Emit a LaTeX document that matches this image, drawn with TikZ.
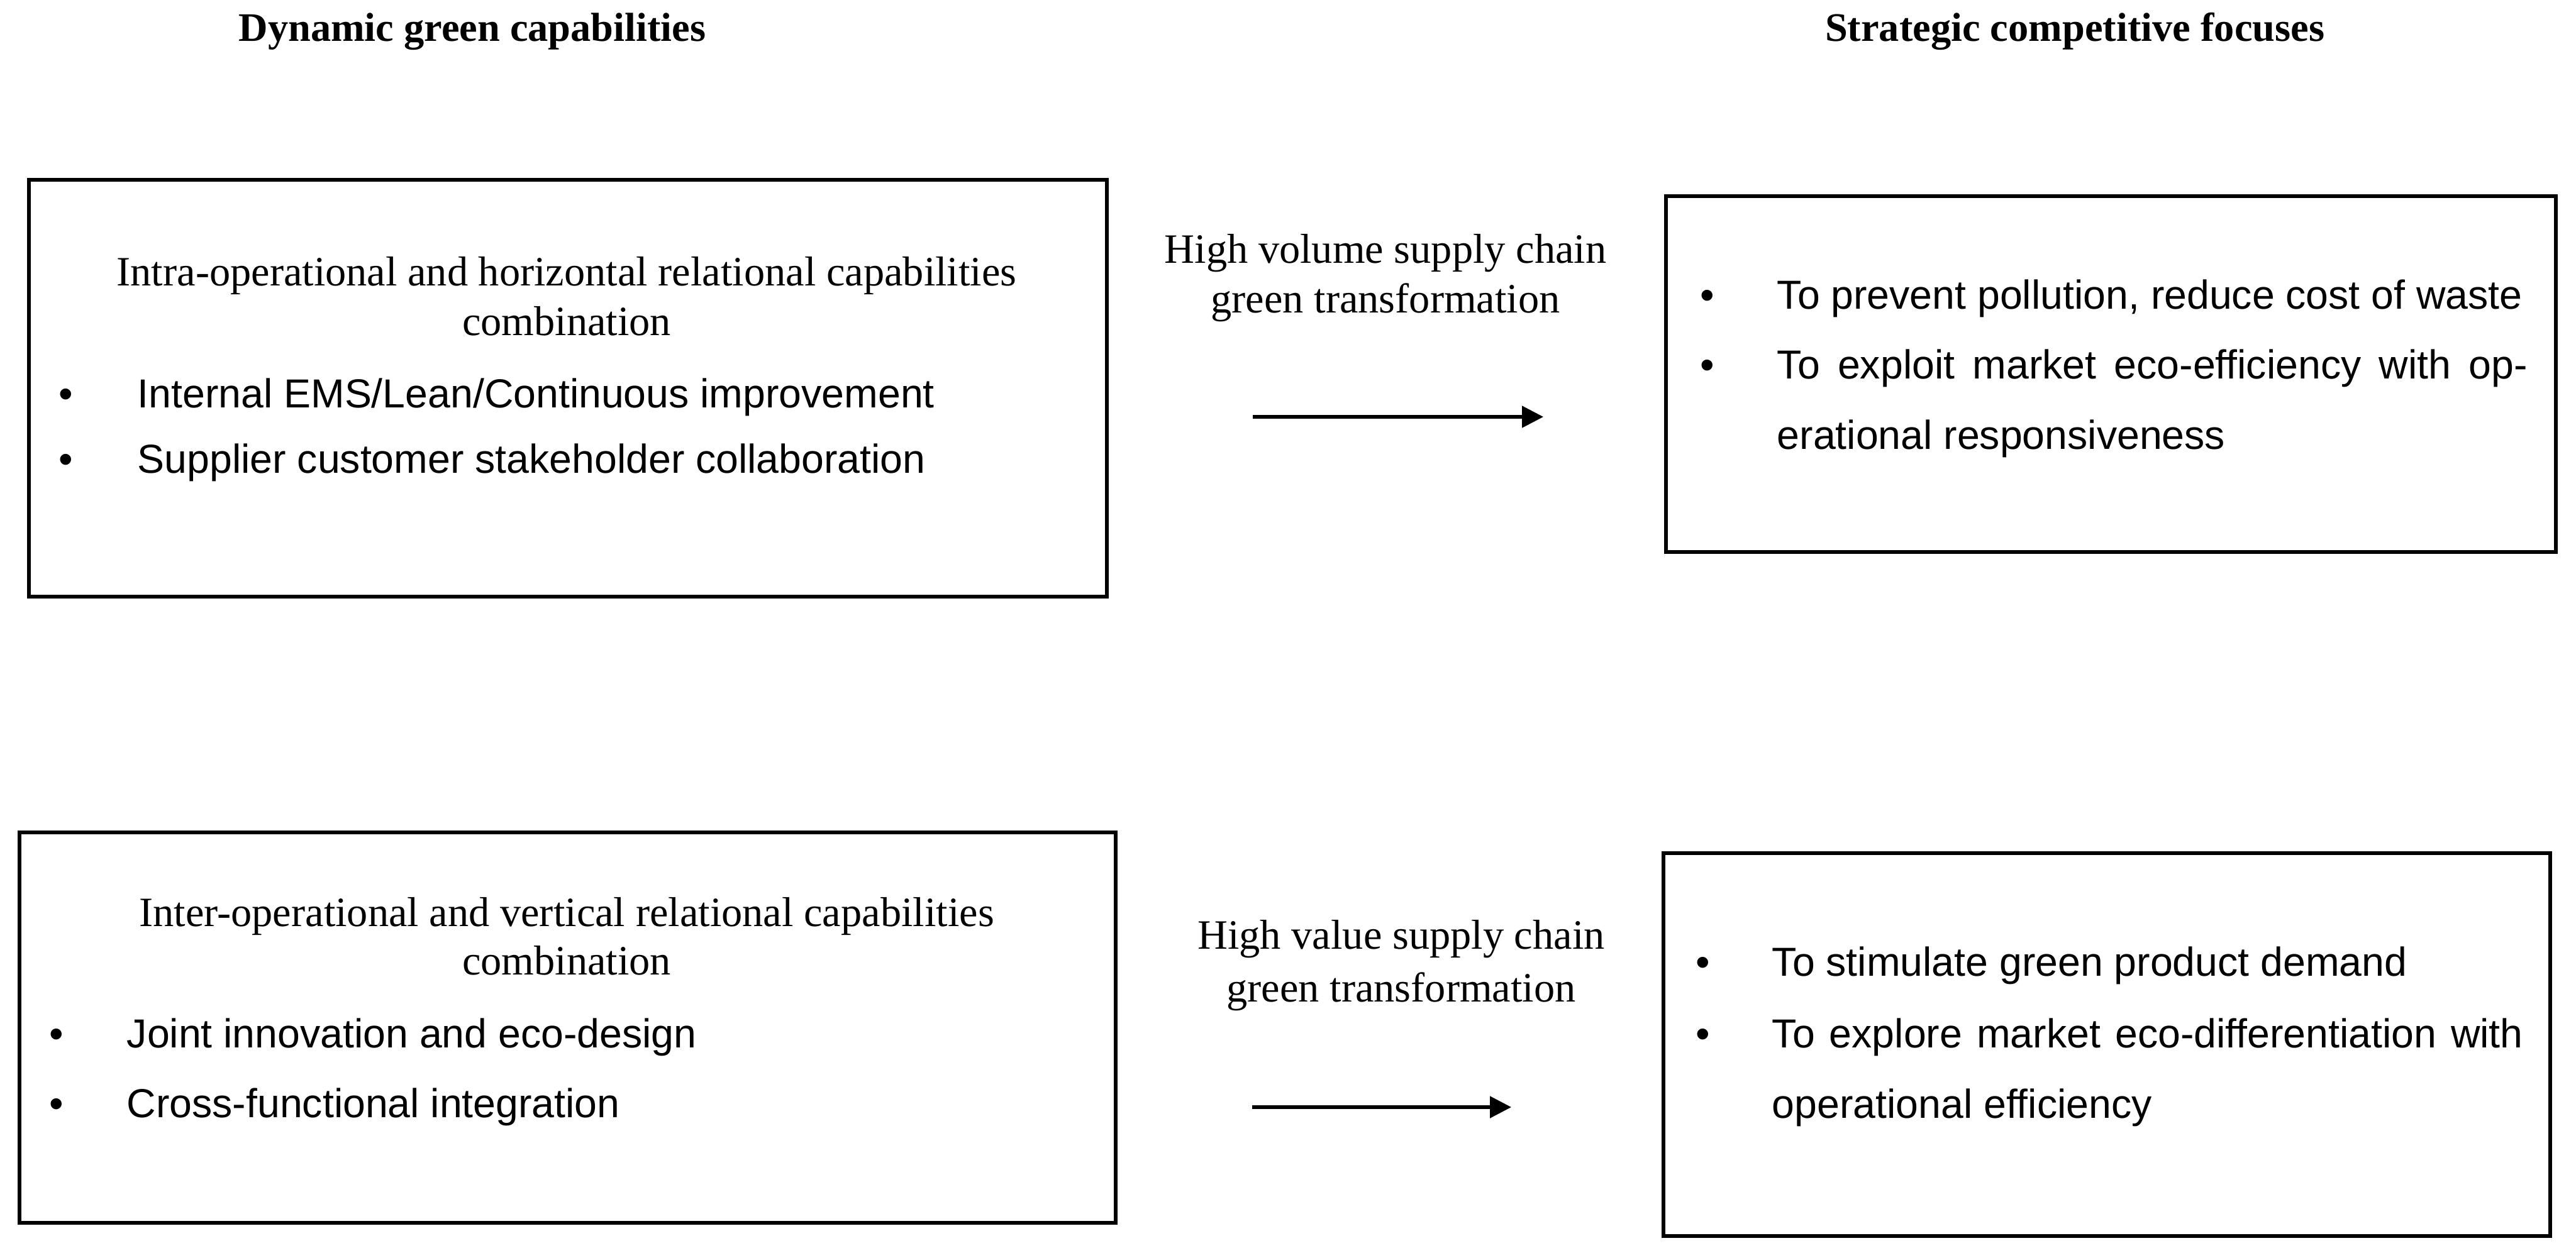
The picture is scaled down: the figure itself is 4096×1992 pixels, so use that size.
\documentclass[tikz,border=0pt]{standalone}
\usepackage{fontspec}
\setmainfont{Liberation Serif}
\newfontfamily\sansf{Liberation Sans}
\usetikzlibrary{arrows.meta}
\tikzset{
 boxframe/.style={draw, line width=1.4pt},
 head/.style={font=\fontsize{16.1}{19}\selectfont\bfseries, anchor=base, inner sep=0pt},
 ser/.style={font=\fontsize{16.6}{20}\selectfont, anchor=base, inner sep=0pt},
 bul/.style={font=\sansf\fontsize{16.1}{19}\selectfont, anchor=base, inner sep=0pt},
 itemtxt/.style={font=\sansf\fontsize{16.1}{28}\selectfont, anchor=base west, inner sep=0pt},
 conn/.style={line width=1.3pt, -{Triangle[length=8.5pt,width=8.5pt]}},
}
\begin{document}
\begin{tikzpicture}[x=0.25pt,y=-0.25pt]
\useasboundingbox (0,0) rectangle (4096,1992);

% headings
\node[head] (hl) at (751,65) {Dynamic green capabilities};
\node[head] (hr) at (3299,65) {Strategic competitive focuses};

% boxes
\draw[boxframe] (46,286) rectangle (1760,949);
\draw[boxframe] (31,1324) rectangle (1774,1945);
\draw[boxframe] (2649,312) rectangle (4064,878);
\draw[boxframe] (2645,1357) rectangle (4055,1966);

% top-left box
\node[ser] (tlt1) at (901,454) {Intra-operational and horizontal relational capabilities};
\node[ser] (tlt2) at (901,533) {combination};
\node[bul] (tlb1) at (105,648) {•};
\node[itemtxt] (tli1) at (218,648) {Internal EMS/Lean/Continuous improvement};
\node[bul] (tlb2) at (105,752) {•};
\node[itemtxt] (tli2) at (218,752) {Supplier customer stakeholder collaboration};

% bottom-left box
\node[ser] (blt1) at (901,1473) {Inter-operational and vertical relational capabilities};
\node[ser] (blt2) at (901,1550) {combination};
\node[bul] (blb1) at (90,1666) {•};
\node[itemtxt] (bli1) at (201,1666) {Joint innovation and eco-design};
\node[bul] (blb2) at (90,1777) {•};
\node[itemtxt] (bli2) at (201,1777) {Cross-functional integration};

% arrow labels
\node[ser] (l1a) at (2203,418) {High volume supply chain};
\node[ser] (l1b) at (2203,497) {green transformation};
\node[ser] (l2a) at (2228,1509) {High value supply chain};
\node[ser] (l2b) at (2228,1593) {green transformation};

% arrows
\coordinate (a1s) at (1992,663);
\coordinate (a1e) at (2454,663);
\coordinate (a2s) at (1991,1761);
\coordinate (a2e) at (2403,1761);
\draw[conn] (a1s) -- (a1e);
\draw[conn] (a2s) -- (a2e);

% top-right box
\node[bul] (trb1) at (2715,491) {•};
\node[itemtxt] (tri1) at (2825,491) {To prevent pollution, reduce cost of waste};
\node[bul] (trb2) at (2715,602) {•};
\node[itemtxt] (tri2) at (2825,602) {\parbox[t]{298.25pt}{\hyphenpenalty=10000 To exploit market eco-efficiency with op-\linebreak erational responsiveness}};

% bottom-right box
\node[bul] (brb1) at (2708,1552) {•};
\node[itemtxt] (bri1) at (2817,1552) {To stimulate green product demand};
\node[bul] (brb2) at (2708,1666) {•};
\node[itemtxt] (bri2) at (2817,1666) {\parbox[t]{298.5pt}{\hyphenpenalty=10000 To explore market eco-differentiation with\linebreak operational efficiency}};
\end{tikzpicture}
\end{document}
